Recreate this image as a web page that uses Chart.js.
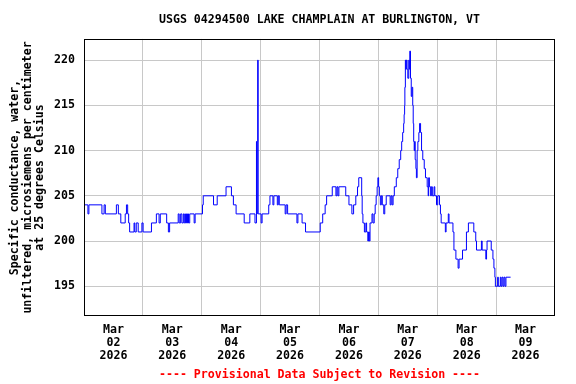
<!DOCTYPE html>
<html>
<head>
<meta charset="utf-8">
<script src="https://cdn.jsdelivr.net/npm/chart.js@4"></script>
<style>
  html, body { margin: 0; padding: 0; background: #fff; }
  #wrap { width: 576px; height: 384px; }
</style>
</head>
<body>
<div id="wrap"><canvas id="chart" width="576" height="384"></canvas></div>
<script>
// hours since Mar 02 2026 00:00, and the value that starts at that hour (step data)
const stepHours = [
  0, 1.6, 2.0, 7.3, 8.2, 8.7, 13.2, 14.0, 15.0, 16.8, 17.3, 17.8, 18.2, 18.6, 20.4, 20.7, 21.3, 22.1, 23.6, 24.1,
  27.5, 29.5, 30.6, 31.1, 33.7, 34.4, 34.9, 38.4, 38.8, 39.4, 39.9, 40.5, 40.9, 41.4, 41.8, 42.2, 42.6, 43.1, 44.9, 45.3, 48.3, 48.6,
  52.8, 54.3, 57.9, 60.1, 60.9, 62.0, 65.3, 67.6, 69.7, 70.3, 70.5, 70.6, 70.8, 71.0, 72.2, 72.6,
  75.3, 75.8, 77.0, 77.4, 78.8, 79.2, 79.6, 82.0, 82.4, 83.0, 86.8, 87.2, 88.9, 90.3,
  96.3, 97.3, 98.3, 98.9, 101.2, 102.7, 103.1, 103.5, 103.9, 106.7, 108.0, 109.2, 109.9, 110.8, 111.5, 112.0,
  113.2, 113.4, 113.7, 114.3, 114.9, 115.2, 115.7, 116.0, 116.3, 116.6, 117.4, 117.8, 118.3, 118.7, 119.1, 119.5, 119.8,
  120.1, 120.4, 120.8, 121.2, 121.6, 122.2, 122.6, 123.2, 124.8, 125.2, 125.6, 126.0, 126.5, 127.3, 127.9, 128.5,
  129.1, 129.5, 129.9, 130.3, 130.5, 130.7, 130.8, 131.0, 131.2, 131.4, 131.7, 132.0, 132.4, 132.6, 132.8, 133.1,
  133.4, 133.7, 134.0, 134.2, 134.4, 134.6, 134.8, 135.0, 135.3, 135.5, 135.8, 136.1, 136.5, 136.8, 137.2, 137.6,
  138.1, 138.7, 139.2, 139.9, 140.3, 140.5, 140.8, 141.3, 141.6, 142.0, 142.7, 143.0, 143.7, 144.2, 144.9,
  145.3, 145.6, 147.3, 147.6, 148.5, 148.8, 150.4, 150.8, 151.6, 152.5, 152.9, 154.3, 155.9, 156.7,
  158.9, 159.7, 160.0, 162.0, 162.3, 163.8, 164.1, 164.3, 166.0, 166.7, 167.1, 167.5, 167.7,
  168.6, 168.9, 169.7, 170.0, 170.4, 170.8, 171.2, 171.6, 172.0, 173.9
];
const stepValues = [
  204, 203, 204, 203, 204, 203, 204, 203, 202, 203, 204, 203, 202, 201, 202, 201, 202, 201, 202, 201,
  202, 203, 202, 203, 202, 201, 202, 203, 202, 203, 202, 203, 202, 203, 202, 203, 202, 203, 202, 203, 204, 205,
  204, 205, 206, 205, 204, 203, 202, 203, 202, 211, 203, 211, 220, 203, 202, 203,
  204, 205, 204, 205, 204, 205, 204, 203, 204, 203, 202, 203, 202, 201,
  202, 203, 204, 205, 206, 205, 206, 205, 206, 205, 204, 203, 204, 205, 206, 207,
  205, 203, 202, 201, 202, 201, 200, 201, 200, 202, 203, 202, 203, 204, 205, 206, 207,
  206, 205, 204, 205, 204, 203, 204, 205, 204, 205, 204, 205, 206, 207, 208, 209,
  210, 211, 212, 213, 214, 215, 217, 220, 219, 220, 219, 218, 220, 219, 221, 218,
  216, 217, 215, 213, 211, 210, 211, 209, 208, 207, 210, 211, 212, 213, 212, 210,
  209, 208, 207, 206, 205, 207, 206, 205, 206, 205, 206, 205, 204, 205, 204,
  203, 202, 201, 202, 203, 202, 201, 199, 198, 197, 198, 199, 201, 202,
  201, 200, 199, 200, 199, 198, 199, 200, 199, 198, 197, 196, 195,
  196, 195, 196, 195, 196, 195, 196, 195, 196, 196
];
const dayLabels = ['02', '03', '04', '05', '06', '07', '08', '09'];
const yTicks = [195, 200, 205, 210, 215, 220];

const monoFont = { family: 'DejaVu Sans Mono', weight: 'bold', size: 11.6, lineHeight: 1.2 };
const gridGray = '#c8c8c8';

const boxPlugin = {
  id: 'plotBox',
  afterDraw(chart) {
    const { ctx, chartArea: a } = chart;
    ctx.save();
    ctx.strokeStyle = '#000';
    ctx.lineWidth = 1;
    ctx.strokeRect(Math.round(a.left) + 0.5, Math.round(a.top) + 0.5,
      Math.round(a.right - a.left) - 1, Math.round(a.bottom - a.top) - 1);
    ctx.restore();
  }
};

new Chart(document.getElementById('chart'), {
  type: 'line',
  data: {
    datasets: [{
      data: stepHours.map((h, i) => ({ x: h, y: stepValues[i] })),
      borderColor: '#0000ff',
      borderWidth: 1,
      pointRadius: 0,
      stepped: true,
      fill: false
    }]
  },
  options: {
    responsive: false,
    animation: false,
    layout: { padding: { left: 0, right: 21, top: 0, bottom: 0 } },
    plugins: {
      legend: { display: false },
      tooltip: { enabled: false },
      title: {
        display: true,
        fullSize: false,
        text: 'USGS 04294500 LAKE CHAMPLAIN AT BURLINGTON, VT',
        color: '#000',
        font: monoFont,
        padding: { top: 13, bottom: 12 }
      },
      subtitle: {
        display: true,
        fullSize: false,
        position: 'bottom',
        text: '---- Provisional Data Subject to Revision ----',
        color: '#ff0000',
        font: monoFont,
        padding: { top: 0, bottom: 2 }
      }
    },
    scales: {
      x: {
        type: 'linear',
        min: 0,
        max: 192,
        afterBuildTicks: (scale) => {
          scale.ticks = [];
          for (let h = 0; h <= 192; h += 12) scale.ticks.push({ value: h });
        },
        afterFit: (scale) => { scale.height = 52; },
        ticks: {
          autoSkip: false,
          maxRotation: 0,
          padding: 7.5,
          color: '#000',
          font: { ...monoFont, lineHeight: 1.12 },
          callback: (v) => (v % 24 === 12 ? ['Mar', dayLabels[(v - 12) / 24], '2026'] : '')
        },
        grid: {
          drawTicks: false,
          color: (ctx) => {
            const v = ctx.tick && ctx.tick.value;
            return (v % 24 === 0 && v > 0 && v < 192) ? gridGray : 'rgba(0,0,0,0)';
          }
        },
        border: { display: false }
      },
      y: {
        min: 191.7,
        max: 222.35,
        afterBuildTicks: (scale) => { scale.ticks = yTicks.map(v => ({ value: v })); },
        afterFit: (scale) => { scale.width = 84; },
        ticks: { padding: 9, color: '#000', font: monoFont },
        grid: { drawTicks: false, color: gridGray },
        border: { display: false },
        title: {
          display: true,
          text: ['Specific conductance, water,', 'unfiltered, microsiemens per centimeter', 'at 25 degrees Celsius'],
          color: '#000',
          font: { ...monoFont, lineHeight: 1.08 },
          padding: { top: 9, bottom: 0 }
        }
      }
    }
  },
  plugins: [boxPlugin]
});
</script>
</body>
</html>
